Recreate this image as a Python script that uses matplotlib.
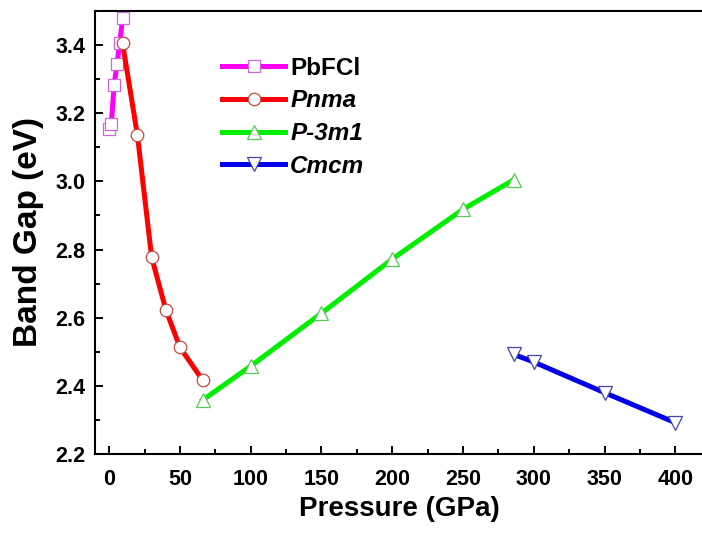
import numpy as np
import matplotlib
matplotlib.use("Agg")
import matplotlib.pyplot as plt
from matplotlib.ticker import MultipleLocator, FormatStrFormatter

plt.rcParams['font.family'] = ['Liberation Sans', 'DejaVu Sans']
plt.rcParams['font.weight'] = 'bold'

# data
p_pbfcl = [0, 1.5, 3.5, 5.5, 7.5, 9.5]
eg_pbfcl = [3.155, 3.167, 3.282, 3.343, 3.407, 3.478]

p_pnma = [9.5, 20, 30, 40, 50, 66]
eg_pnma = [3.405, 3.135, 2.778, 2.624, 2.513, 2.417]

p_p3m1 = [66, 100, 150, 200, 250, 286]
eg_p3m1 = [2.358, 2.458, 2.613, 2.772, 2.918, 3.005]

p_cmcm = [286, 300, 350, 400]
eg_cmcm = [2.492, 2.470, 2.380, 2.292]

labels = ["PbFCl", "Pnma", "P-3m1", "Cmcm"]

fig = plt.figure(figsize=(7.02, 5.33), dpi=100)
ax = fig.add_axes([0.1353, 0.1482, 0.867, 0.8312])

lw = 3.6
ax.plot(p_pbfcl, eg_pbfcl, color="#ff00ff", lw=lw, marker="s", ms=8,
        mfc="white", mec="#cc66dd", mew=0.9, label=labels[0], zorder=3)
ax.plot(p_pnma, eg_pnma, color="#ff0000", lw=lw, marker="o", ms=9,
        mfc="white", mec="#c04a40", mew=0.9, label=labels[1], zorder=4)
ax.plot(p_p3m1, eg_p3m1, color="#00ee00", lw=lw, marker="^", ms=10,
        mfc="white", mec="#55cc55", mew=0.9, label=labels[2], zorder=3)
ax.plot(p_cmcm, eg_cmcm, color="#0000e6", lw=lw, marker="v", ms=10,
        mfc="white", mec="#4444aa", mew=0.9, label=labels[3], zorder=3)

ax.set_xlim(-10, 420)
ax.set_ylim(2.2, 3.5)
ax.xaxis.set_major_locator(MultipleLocator(50))
ax.xaxis.set_minor_locator(MultipleLocator(25))
ax.yaxis.set_major_locator(MultipleLocator(0.2))
ax.yaxis.set_minor_locator(MultipleLocator(0.1))
ax.yaxis.set_major_formatter(FormatStrFormatter("%.1f"))

ax.tick_params(which="both", direction="in", width=1.4, labelsize=15.5, top=False, right=False)
ax.tick_params(which="major", length=6)
ax.tick_params(which="minor", length=3.5)
ax.tick_params(axis="x", pad=11)
ax.tick_params(axis="y", pad=7)
for s in ax.spines.values():
    s.set_linewidth(1.5)

ax.set_xlabel("Pressure (GPa)", fontsize=20, fontweight="bold", labelpad=4)
ax.set_ylabel("Band Gap (eV)", fontsize=24, fontweight="bold", labelpad=8)

leg = ax.legend(loc="upper left", bbox_to_anchor=(0.209, 0.897), frameon=False,
                fontsize=17.5, handlelength=2.6, handletextpad=0.2,
                labelspacing=0.4, borderpad=0, borderaxespad=0, numpoints=1)
for i, t in enumerate(leg.get_texts()):
    t.set_fontweight("bold")
    if i > 0:
        t.set_fontstyle("italic")

fig.savefig("out.png", dpi=100)
